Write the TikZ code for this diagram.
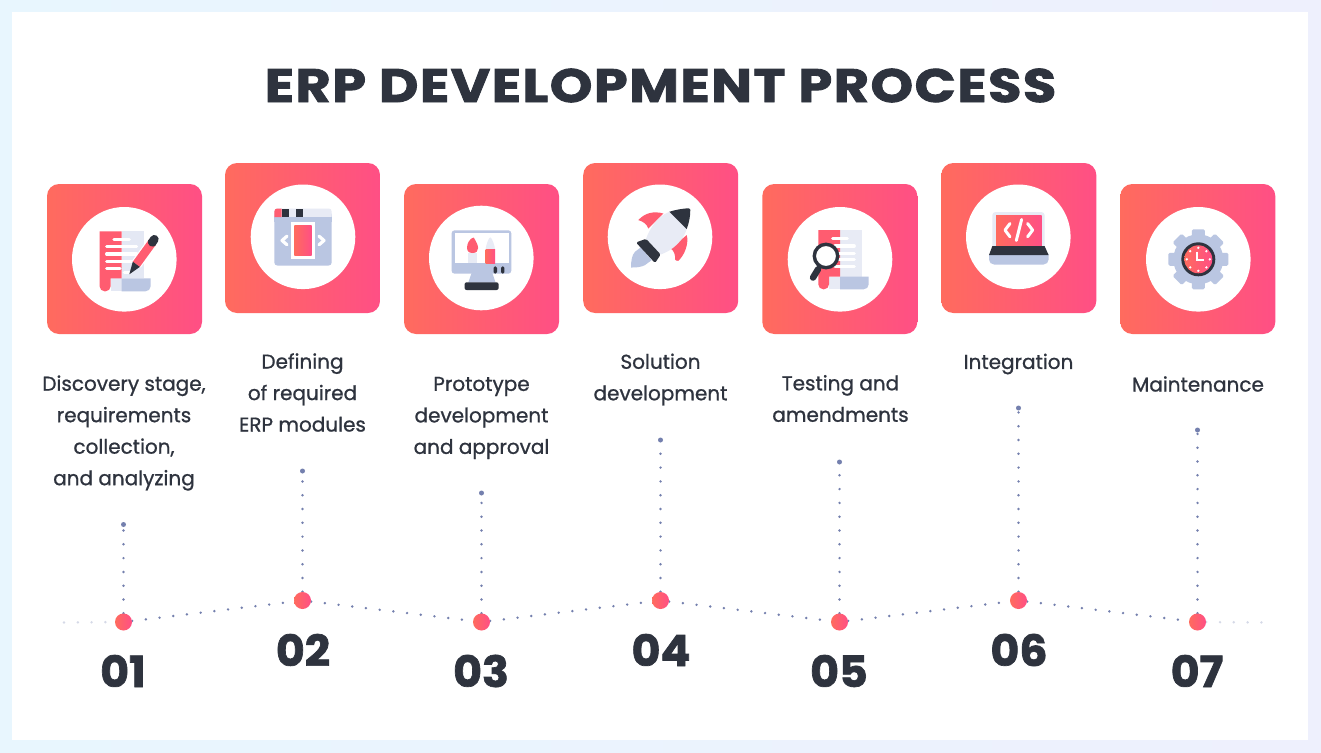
\documentclass[tikz,border=0pt]{standalone}
\usepackage{fontspec}
\setmainfont{Poppins}
\newfontfamily\stepfont{Poppins}[FakeBold=0.9]
\newfontfamily\numfont{Poppins Bold}[FakeBold=1.6,FakeStretch=1.03]
\newfontfamily\titlefont{Poppins Bold}[FakeBold=1.8,FakeStretch=1.155,LetterSpace=3]
\usetikzlibrary{backgrounds}

\tikzset{
	card/.style={rectangle, rounded corners=12pt, minimum width=155pt, minimum height=150pt, inner sep=0pt, left color=cardleft, right color=cardright},
	disc/.style={circle, fill=white, minimum size=104.6pt, inner sep=0pt},
	stepdot/.style={circle, minimum size=17pt, inner sep=0pt, left color=cardleft, right color=cardright},
	pindot/.style={circle, fill=dotblue, minimum size=5pt, inner sep=0pt},
	dotline/.style={line width=2.7pt, line cap=round, dash pattern=on 0pt off 13.8pt, dotblue},
	fadeline/.style={dotline, dotblue!30},
	steplabel/.style={align=center, inner sep=0pt, font=\stepfont\fontsize{20}{31.5}\selectfont, text=inkdark},
	stepnum/.style={inner sep=0pt, font=\numfont\fontsize{43}{43}\selectfont, text=inkdark},
}

\begin{document}
\begin{tikzpicture}[x=1pt, y=-1pt]
	% Colors
	\definecolor{cardleft}{RGB}{255, 107, 94}
	\definecolor{cardright}{RGB}{255, 79, 133}
	\definecolor{iconred}{RGB}{255, 92, 112}
	\definecolor{inkdark}{RGB}{46, 51, 62}
	\definecolor{iconblue}{RGB}{186, 198, 226}
	\definecolor{iconlight}{RGB}{232, 235, 245}
	\definecolor{dotblue}{RGB}{116, 128, 174}
	\definecolor{bgleft}{RGB}{232, 246, 254}
	\definecolor{bgright}{RGB}{238, 240, 253}

	\useasboundingbox (0,0) rectangle (1321,752);

	% --- Title ---
	\node[inner sep=0pt, text=inkdark, font=\titlefont\fontsize{47}{47}\selectfont] (title) at (660.5,85.5) {ERP DEVELOPMENT PROCESS};

	% --- Cards and white discs ---
	\node[card] (card1) at (124.5,259) {};
	\node[card] (card2) at (302.5,238) {};
	\node[card] (card3) at (481.5,259) {};
	\node[card] (card4) at (660.7,238) {};
	\node[card] (card5) at (839.8,259) {};
	\node[card] (card6) at (1018.8,238) {};
	\node[card] (card7) at (1197.8,259) {};
	\node[disc] (disc1) at (124.3,259.3) {};
	\node[disc] (disc2) at (303,236.8) {};
	\node[disc] (disc3) at (481.3,258) {};
	\node[disc] (disc4) at (660,236.8) {};
	\node[disc] (disc5) at (840,259.3) {};
	\node[disc] (disc6) at (1018.3,236.8) {};
	\node[disc] (disc7) at (1198.3,259.3) {};

	% --- Icon 1: scroll and pen ---
	\begin{scope}[shift={(disc1.center)}]
		\fill[iconlight!92!iconblue] (-2.7,-28) rectangle (19.7,19);
		\fill[iconlight!92!iconblue] (-13.7,19) rectangle (-2.7,32);
		\fill[iconred] (-2.7,-28) -- (-24.7,-28) [rounded corners=5pt] -- (-24.7,32) -- (-13.7,32) [sharp corners] -- (-13.7,19) -- (-2.7,19) -- cycle;
		\fill[iconblue] (-2.7,19) -- (26.3,19) [rounded corners=5pt] -- (26.3,32) [sharp corners] -- (-2.7,32) -- cycle;
		\draw[white, line width=3.2pt, line cap=round] (-10.3,-20) -- (5,-20) (-17.7,-12.7) -- (12.3,-12.7) (-17.7,-5.3) -- (12.3,-5.3) (-17.7,2) -- (10,2) (-17.7,9) -- (-4.3,9) (0,13.3) -- (5,13.3);
		\draw[white, line width=11pt] (12,5) -- (28,-17);
		\draw[iconred, line width=8.7pt] (12,5) -- (28,-17);
		\draw[inkdark, line width=8.7pt] (27,-15.6) -- (28,-17);
		\draw[inkdark, line width=8.7pt, line cap=round] (28,-17) -- (30,-20);
		\fill[inkdark] (5,15) -- (15.5,7.6) -- (8.5,2.4) -- cycle;
	\end{scope}

	% --- Icon 2: browser window ---
	\begin{scope}[shift={(disc2.center)}]
		\fill[iconblue, rounded corners=3pt] (-28.7,-25) rectangle (28.7,28.7);
		\fill[iconlight, rounded corners=3pt] (-28.7,-28.3) rectangle (28.7,-18);
		\fill[iconblue] (-28.7,-19.7) rectangle (28.7,-15);
		\fill[iconred] (-21.3,-19.7) -- (-28.7,-19.7) [rounded corners=3pt] -- (-28.7,-28.3) [sharp corners] -- (-21.3,-28.3) -- cycle;
		\fill[inkdark] (-21.3,-28.3) rectangle (-14,-19.7);
		\fill[inkdark] (-6.7,-28.3) rectangle (0.3,-19.7);
		\fill[white] (-12,-15) rectangle (12,22.3);
		\shade[left color=cardleft, right color=cardright] (-8.7,-11.7) rectangle (8.7,19);
		\draw[white, line width=3.2pt, line cap=round, line join=round] (-16,-0.7) -- (-21,3.7) -- (-16,8);
		\draw[white, line width=3.2pt, line cap=round, line join=round] (16,-0.7) -- (21,3.7) -- (16,8);
	\end{scope}

	% --- Icon 3: monitor with brush and pencil ---
	\begin{scope}[shift={(disc3.center)}]
		\fill[iconblue] (-9.7,15) -- (11,15) -- (14.3,24.5) -- (-13,24.5) -- cycle;
		\fill[iconblue, rounded corners=3pt] (-29.7,-27.7) rectangle (30,15.7);
		\fill[white] (-26.7,-24.7) rectangle (27.3,5);
		\fill[inkdark, rounded corners=2pt] (-16.7,24.3) rectangle (17.3,32);
		\fill[inkdark, rounded corners=1.5pt] (12.3,8.3) rectangle (15.7,15.7);
		\fill[inkdark, rounded corners=1.5pt] (19.7,8.3) rectangle (23,15.7);
		% brush
		\fill[iconlight] (-13,-5) rectangle (-4.7,5);
		\fill[iconred] (-7.5,-20.5) .. controls (-6,-17) and (-3.2,-14) .. (-3.2,-10) .. controls (-3.2,-7) and (-5,-5) .. (-8.7,-5) .. controls (-12.5,-5) and (-14.3,-7) .. (-14.3,-10.5) .. controls (-14.3,-15) and (-11,-20) .. (-7.5,-20.5) -- cycle;
		% pencil
		\fill[iconlight] (4.3,-8.3) .. controls (4.3,-12) and (7.5,-20.7) .. (9,-20.7) .. controls (10.5,-20.7) and (13.7,-12) .. (13.7,-8.3) -- cycle;
		\shade[left color=cardleft, right color=cardright] (4.3,-8.3) rectangle (13.7,5);
	\end{scope}

	% --- Icon 4: rocket ---
	\begin{scope}[shift={(disc4.center)}]
		\fill[iconred] (-21.7,-16.7) .. controls (-15,-24) and (-6,-26) .. (3.3,-23.3) -- (-11.7,-8.3) .. controls (-13,-12.5) and (-17,-15.5) .. (-21.7,-16.7) -- cycle;
		\fill[iconred] (26.7,-1.7) .. controls (29,6) and (25,18) .. (18.3,24) .. controls (17,24.5) and (15.5,23.5) .. (15,22.7) .. controls (15.5,18) and (14,14) .. (10.7,11.7) -- cycle;
		\fill[iconblue] (-29,30.7) .. controls (-29,24) and (-28,18) .. (-25,15) -- (-19.3,10.7) -- (-8.3,23.3) -- (-15,28.3) .. controls (-18,30) and (-24,31) .. (-29,30.7) -- cycle;
		\fill[iconlight] (9.3,-25) .. controls (-3.3,-20) and (-10,-8.3) .. (-14,2) -- (0.7,17.7) .. controls (13.3,13.3) and (23.3,3.3) .. (26.7,-7.7) -- cycle;
		\fill[inkdark] (9.3,-25) .. controls (15,-27) and (24,-28.5) .. (29,-28.5) .. controls (30,-28.5) and (30.3,-28) .. (30.3,-27) .. controls (30.3,-20) and (29,-14) .. (26.7,-7.7) -- cycle;
		\fill[inkdark, rounded corners=1.5pt] (-24,5.7) -- (-14,2) -- (0.7,17.7) -- (-5,26.2) -- cycle;
	\end{scope}

	% --- Icon 5: scroll and magnifier ---
	\begin{scope}[shift={(disc5.center)}]
		\fill[iconlight] (0,-29.3) rectangle (21.7,17.3);
		\fill[iconlight] (-11,17.3) rectangle (0,30);
		\fill[iconred] (0,-29.3) -- (-21.7,-29.3) [rounded corners=5pt] -- (-21.7,30) -- (-11,30) [sharp corners] -- (-11,17.3) -- (0,17.3) -- cycle;
		\fill[iconblue] (0,17.3) -- (28.7,17.3) [rounded corners=5pt] -- (28.7,30) [sharp corners] -- (0,30) -- cycle;
		\draw[white, line width=3.2pt, line cap=round] (-7.3,-20.7) -- (7.3,-20.7) (-5,-13.3) -- (14.3,-13.3) (-5,-6) -- (14.3,-6) (-5,0) -- (14.3,0) (-5,7.3) -- (14.3,7.3);
		\fill[white] (-14,-3.3) circle (11.7pt);
		\draw[inkdark, line width=3.4pt] (-14,-3.3) circle (11.7pt);
		\draw[inkdark, line width=4pt] (-20,6.5) -- (-22,10);
		\draw[inkdark, line width=6.4pt, line cap=round] (-22,10) -- (-27,18.3);
	\end{scope}

	% --- Icon 6: laptop with code ---
	\begin{scope}[shift={(disc6.center)}]
		\fill[iconlight, rounded corners=3pt] (-26,-24.7) rectangle (26.3,12);
		\shade[left color=cardleft, right color=cardright] (-22.3,-21) rectangle (23.3,9.3);
		\fill[iconblue] (-29.3,17) -- (30.3,17) [rounded corners=5pt] -- (30.3,27.7) -- (-29.3,27.7) [sharp corners] -- cycle;
		\fill[inkdark] (-26,9.3) -- (26.3,9.3) -- (30.3,18.3) -- (-29.3,18.3) -- cycle;
		\draw[white, line width=3pt, line cap=round, line join=round] (-8.3,-13.3) -- (-13.3,-6.7) -- (-8.3,0);
		\draw[white, line width=3pt, line cap=round] (3.3,-17.3) -- (-2,3.7);
		\draw[white, line width=3pt, line cap=round, line join=round] (9.3,-13.3) -- (14.3,-6.7) -- (9.3,0);
	\end{scope}

	% --- Icon 7: gear and clock ---
	\begin{scope}[shift={(disc7.center)}]
		\fill[iconblue] (0,0) circle (25pt);
		\fill[iconblue, rounded corners=1.5pt] (-6.5,-30) rectangle (6.5,30);
		\fill[iconblue, rounded corners=1.5pt] (-30,-6.5) rectangle (30,6.5);
		\fill[iconblue, rounded corners=1.5pt, rotate=45] (-6.5,-30) rectangle (6.5,30);
		\fill[iconblue, rounded corners=1.5pt, rotate=45] (-30,-6.5) rectangle (30,6.5);
		\fill[inkdark] (0,0) circle (17pt);
		\shade[left color=cardleft, right color=cardright] (0,0) circle (14pt);
		\fill[white] (0,-11.5) circle (1.3pt) (0,11.5) circle (1.3pt) (-11.5,0) circle (1.3pt) (11.5,0) circle (1.3pt);
		\fill[white] (-8.1,-8.1) circle (1.3pt) (8.1,-8.1) circle (1.3pt) (-8.1,8.1) circle (1.3pt) (8.1,8.1) circle (1.3pt);
		\draw[white, line width=1.8pt] (-1,-7.7) -- (-1,1) -- (6,1);
	\end{scope}

	% --- Labels ---
	\node[steplabel] (label1) at (124,433) {Discovery stage,\\requirements\\collection,\\and analyzing};
	\node[steplabel] (label2) at (302.5,392.5) {Defining\\of required\\ERP modules};
	\node[steplabel] (label3) at (481.5,418) {Prototype\\development\\and approval};
	\node[steplabel] (label4) at (660.5,379.5) {Solution\\development};
	\node[steplabel] (label5) at (840.5,398.5) {Testing and\\amendments};
	\node[steplabel] (label6) at (1018.5,364) {Integration};
	\node[steplabel] (label7) at (1198,384) {Maintenance};

	% --- Timeline points and pins ---
	\node[stepdot] (point1) at (123.5,622) {};
	\node[stepdot] (point2) at (302.5,600.5) {};
	\node[stepdot] (point3) at (481.5,622) {};
	\node[stepdot] (point4) at (660.5,600.5) {};
	\node[stepdot] (point5) at (839.5,622) {};
	\node[stepdot] (point6) at (1018.5,600.5) {};
	\node[stepdot] (point7) at (1197.5,622) {};
	\node[pindot] (pin1) at (123.5,524.5) {};
	\node[pindot] (pin2) at (302.5,471) {};
	\node[pindot] (pin3) at (481.5,493) {};
	\node[pindot] (pin4) at (660.5,440) {};
	\node[pindot] (pin5) at (839.5,462) {};
	\node[pindot] (pin6) at (1018.5,408) {};
	\node[pindot] (pin7) at (1197.5,430) {};
	\coordinate (fadeleft) at (64,622.5);
	\coordinate (faderight) at (1272,622.5);

	% --- Numbers ---
	\node[stepnum] (num1) at (123,671) {01};
	\node[stepnum] (num2) at (303,650) {02};
	\node[stepnum] (num3) at (481,671) {03};
	\node[stepnum] (num4) at (661,650) {04};
	\node[stepnum] (num5) at (839,671) {05};
	\node[stepnum] (num6) at (1019,650) {06};
	\node[stepnum] (num7) at (1197,671) {07};

	% --- Background and dotted lines go under everything ---
	\begin{scope}[on background layer]
		\shade[left color=bgleft, right color=bgright] (0,0) rectangle (1321,752);
		\fill[white] (12,12) rectangle (1308,740);
		\draw[fadeline] (fadeleft) -- (point1);
		\draw[dotline] (point1) -- (point2);
		\draw[dotline] (point2) -- (point3);
		\draw[dotline] (point3) -- (point4);
		\draw[dotline] (point4) -- (point5);
		\draw[dotline] (point5) -- (point6);
		\draw[dotline] (point6) -- (point7);
		\draw[fadeline] (point7) -- (faderight);
		\draw[dotline] (point1) -- (pin1);
		\draw[dotline] (point2) -- (pin2);
		\draw[dotline] (point3) -- (pin3);
		\draw[dotline] (point4) -- (pin4);
		\draw[dotline] (point5) -- (pin5);
		\draw[dotline] (point6) -- (pin6);
		\draw[dotline] (point7) -- (pin7);
	\end{scope}
\end{tikzpicture}
\end{document}
